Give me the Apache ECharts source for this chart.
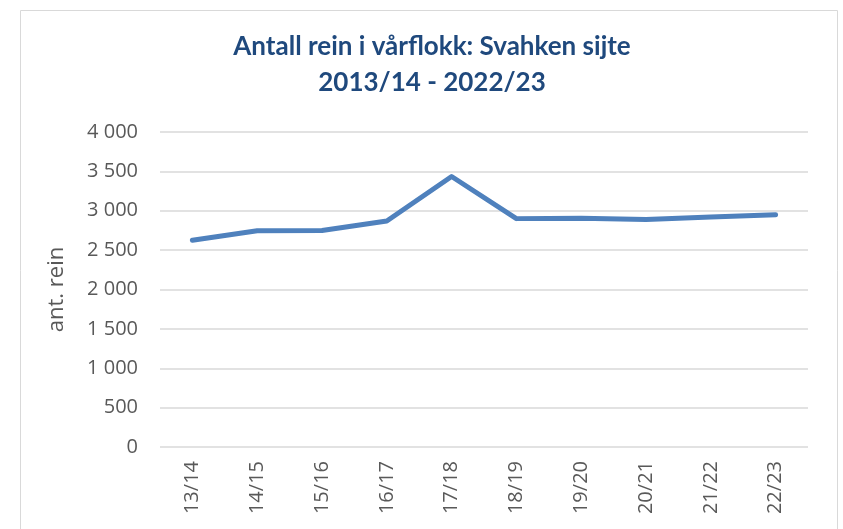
<!DOCTYPE html>
<html>
<head>
<meta charset="utf-8">
<script src="https://cdn.jsdelivr.net/npm/echarts@6/dist/echarts.min.js"></script>
<style>
  html, body { margin: 0; padding: 0; background: #fff; }
  #chart { width: 843px; height: 529px; }
</style>
</head>
<body>
<div id="chart"></div>
<script>
const seasons = ['13/14', '14/15', '15/16', '16/17', '17/18', '18/19', '19/20', '20/21', '21/22', '22/23']
const reindeer = [2625, 2745, 2750, 2870, 3435, 2900, 2905, 2890, 2920, 2950]

const chart = echarts.init(document.getElementById('chart'))

function fmt(v) {
  return String(v).replace(/\B(?=(\d{3})+(?!\d))/g, ' ')
}

chart.setOption({
  animation: false,
  graphic: [{
    type: 'rect',
    shape: { x: 20.5, y: 10.5, width: 817, height: 530 },
    style: { fill: 'none', stroke: '#d9d9d9', lineWidth: 1 }
  }],
  title: {
    text: 'Antall rein i vårflokk: Svahken sijte\n2013/14 - 2022/23',
    left: 427,
    top: 24,
    textAlign: 'center',
    textStyle: {
      fontFamily: 'Lato',
      fontSize: 26,
      fontWeight: 'bold',
      color: '#1f497d',
      lineHeight: 36
    }
  },
  grid: { left: 160, right: 35, top: 132, bottom: 82 },
  xAxis: {
    type: 'category',
    data: seasons,
    boundaryGap: true,
    axisLine: { show: false },
    axisTick: { show: false },
    axisLabel: {
      rotate: 90,
      margin: 14,
      fontFamily: 'Open Sans',
      fontSize: 20,
      color: '#595959'
    }
  },
  yAxis: {
    type: 'value',
    min: 0,
    max: 4000,
    interval: 500,
    name: 'ant. rein',
    nameLocation: 'middle',
    nameGap: 92,
    nameTextStyle: { fontFamily: 'Open Sans', fontSize: 22, color: '#595959' },
    axisLine: { show: false },
    axisTick: { show: false },
    axisLabel: {
      margin: 22,
      fontFamily: 'Open Sans',
      fontSize: 20,
      color: '#595959',
      formatter: fmt
    },
    splitLine: { lineStyle: { color: '#d9d9d9', width: 1.5 } }
  },
  series: [{
    type: 'line',
    data: reindeer,
    symbol: 'none',
    lineStyle: { color: '#4f81bd', width: 5, cap: 'round', join: 'round' }
  }]
})
</script>
</body>
</html>
